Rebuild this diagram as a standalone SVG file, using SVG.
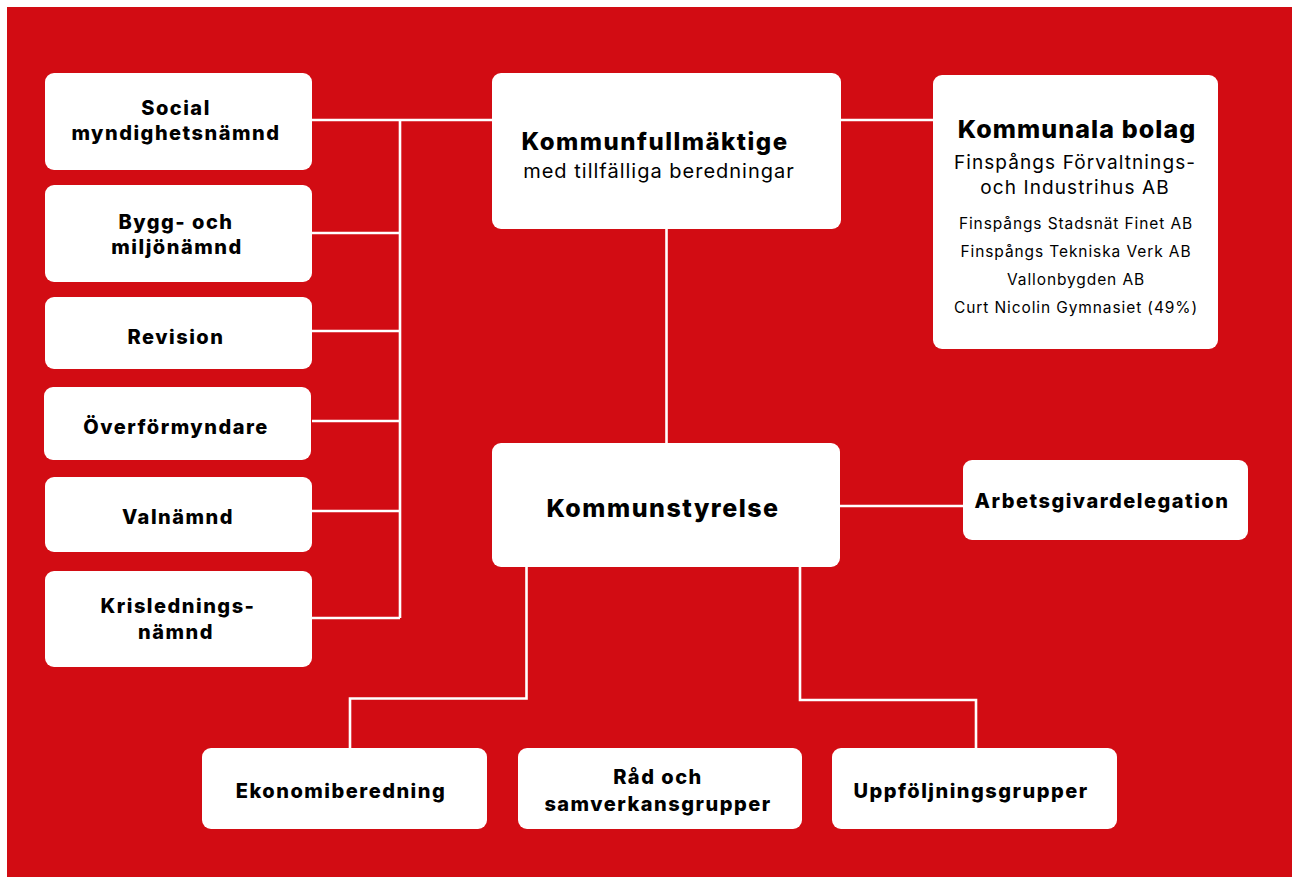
<svg xmlns="http://www.w3.org/2000/svg" width="1292" height="877" viewBox="0 0 1292 877">
<style>
.box{fill:#fff;}
.b{font-family:Inter,"Liberation Sans",sans-serif;font-weight:800;fill:#000;text-anchor:middle;letter-spacing:1.5px;}
.r{font-family:Inter,"Liberation Sans",sans-serif;font-weight:400;fill:#000;text-anchor:middle;letter-spacing:1px;}
.s{letter-spacing:0.9px;}
.ln{stroke:#fff;stroke-width:2.6;fill:none;}
</style>
<rect x="0" y="0" width="1292" height="877" fill="#fff"/>
<rect x="7" y="7" width="1285" height="870" fill="#D20C13"/>
<g id="connectors">
<path class="ln" d="M312 120H492M400 120V618M312 233H400M312 331H400M312 421H400M312 511H400M312 618H400"/>
<path class="ln" d="M841 120H933"/>
<path class="ln" d="M666.5 229V444"/>
<path class="ln" d="M840 506H963"/>
<path class="ln" d="M526.5 567V698.5H350V748"/>
<path class="ln" d="M800 567V700H976V748"/>
</g>
<g id="social"><rect class="box" x="45" y="73" width="267" height="97" rx="9"/>
<text class="b" font-size="20" x="176" y="115">Social</text><text class="b" font-size="20" x="176" y="140">myndighetsnämnd</text></g>
<g id="bygg"><rect class="box" x="45" y="185" width="267" height="97" rx="9"/>
<text class="b" font-size="20" x="176" y="229">Bygg- och</text><text class="b" font-size="20" x="177" y="254">miljönämnd</text></g>
<g id="revision"><rect class="box" x="45" y="297" width="267" height="72" rx="9"/>
<text class="b" font-size="20" x="176" y="344">Revision</text></g>
<g id="overformyndare"><rect class="box" x="44" y="387" width="267" height="73" rx="9"/>
<text class="b" font-size="20" x="176" y="434">Överförmyndare</text></g>
<g id="valnamnd"><rect class="box" x="45" y="477" width="267" height="75" rx="9"/>
<text class="b" font-size="20" x="178" y="524">Valnämnd</text></g>
<g id="krislednings"><rect class="box" x="45" y="571" width="267" height="96" rx="9"/>
<text class="b" font-size="20" x="178" y="613">Krislednings-</text><text class="b" font-size="20" x="176" y="639">nämnd</text></g>
<g id="kommunfullmaktige"><rect class="box" x="492" y="73" width="349" height="156" rx="9"/>
<text class="b" font-size="24" x="655" y="150">Kommunfullmäktige</text><text class="r" font-size="20" x="659" y="178">med tillfälliga beredningar</text></g>
<g id="kommunala-bolag"><rect class="box" x="933" y="75" width="285" height="274" rx="9"/>
<text class="b" font-size="25" x="1077" y="138" style="letter-spacing:1.1px">Kommunala bolag</text>
<text class="r" font-size="19" x="1075" y="169" style="letter-spacing:1.1px">Finspångs Förvaltnings-</text>
<text class="r" font-size="19" x="1075" y="194" style="letter-spacing:1.1px">och Industrihus AB</text>
<text class="r s" font-size="15.5" x="1076" y="229">Finspångs Stadsnät Finet AB</text>
<text class="r s" font-size="15.5" x="1076" y="257">Finspångs Tekniska Verk AB</text>
<text class="r s" font-size="15.5" x="1076" y="285">Vallonbygden AB</text>
<text class="r s" font-size="15.5" x="1076" y="313">Curt Nicolin Gymnasiet (49%)</text></g>
<g id="kommunstyrelse"><rect class="box" x="492" y="443" width="348" height="124" rx="9"/>
<text class="b" font-size="25" x="663" y="517">Kommunstyrelse</text></g>
<g id="arbetsgivardelegation"><rect class="box" x="963" y="460" width="285" height="80" rx="9"/>
<text class="b" font-size="20" x="1102" y="508">Arbetsgivardelegation</text></g>
<g id="ekonomiberedning"><rect class="box" x="202" y="748" width="285" height="81" rx="9"/>
<text class="b" font-size="20" x="341" y="798">Ekonomiberedning</text></g>
<g id="rad"><rect class="box" x="518" y="748" width="284" height="81" rx="9"/>
<text class="b" font-size="20" x="658" y="784">Råd och</text><text class="b" font-size="20" x="658" y="811">samverkansgrupper</text></g>
<g id="uppfoljningsgrupper"><rect class="box" x="832" y="748" width="285" height="81" rx="9"/>
<text class="b" font-size="20" x="971" y="798">Uppföljningsgrupper</text></g>
</svg>
